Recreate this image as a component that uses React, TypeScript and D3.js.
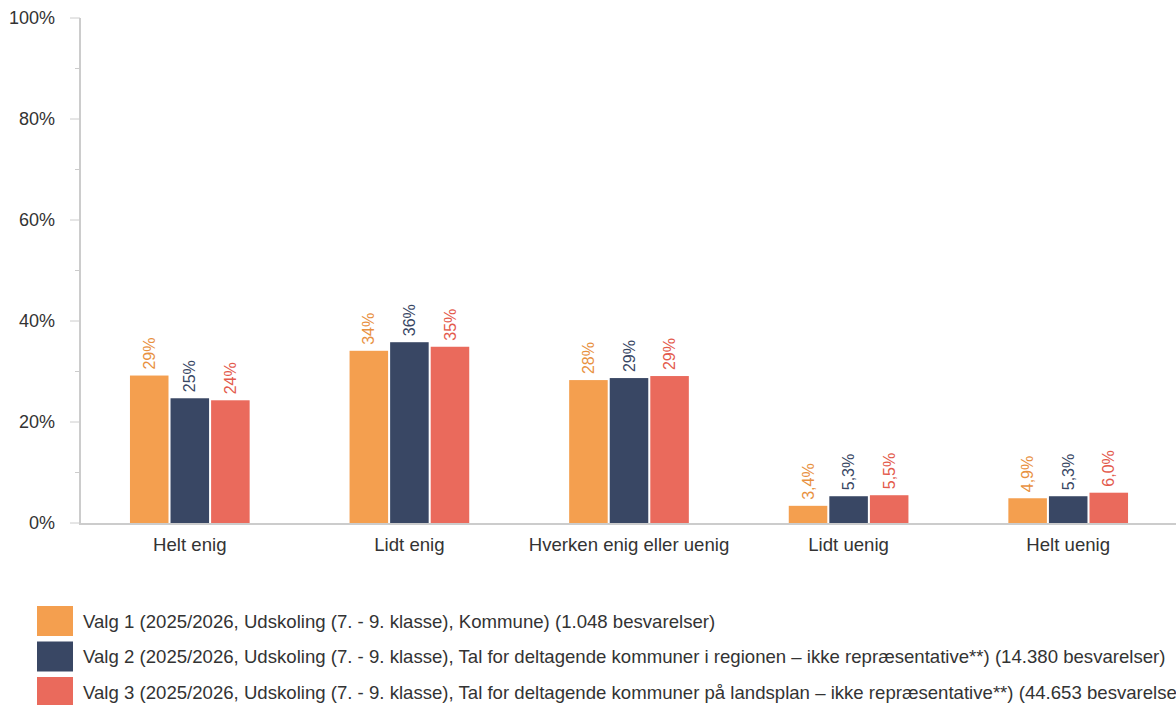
import { useEffect, useRef } from "react";
import * as d3 from "d3";

const categories = ["Helt enig", "Lidt enig", "Hverken enig eller uenig", "Lidt uenig", "Helt uenig"];
const seriesNames = [
  "Valg 1 (2025/2026, Udskoling (7. - 9. klasse), Kommune) (1.048 besvarelser)",
  "Valg 2 (2025/2026, Udskoling (7. - 9. klasse), Tal for deltagende kommuner i regionen – ikke repræsentative**) (14.380 besvarelser)",
  "Valg 3 (2025/2026, Udskoling (7. - 9. klasse), Tal for deltagende kommuner på landsplan – ikke repræsentative**) (44.653 besvarelser)",
];
const valg1 = [29.2, 34.1, 28.3, 3.4, 4.9];
const valg2 = [24.7, 35.8, 28.7, 5.3, 5.3];
const valg3 = [24.3, 34.9, 29.1, 5.5, 6.0];
const yTicks = [0, 20, 40, 60, 80, 100];
const colors = ["#f49f4f", "#394764", "#ea6a5c"];
const labelColors = ["#e8913f", "#394764", "#e35a4c"];

const W = 1176,
  H = 705;
const margin = { top: 18, right: -2, bottom: 182, left: 80 };
const font = "'Liberation Sans', Arial, sans-serif";

const fmt = (v: number) => (v >= 10 ? Math.round(v) + "%" : v.toFixed(1).replace(".", ",") + "%");

function App() {
  const svgRef = useRef(null);

  useEffect(() => {
    document.body.style.margin = "0";
    const svg = d3.select(svgRef.current);
    svg.selectAll("*").remove();

    const series = [valg1, valg2, valg3];
    const x0 = d3.scaleBand().domain(categories).range([margin.left, W - margin.right]);
    const x1 = d3.scaleBand().domain(["0", "1", "2"]).range([0, x0.bandwidth() * 0.545]).paddingInner(0.05);
    const y = d3.scaleLinear().domain([0, 100]).range([H - margin.bottom, margin.top]);

    const g = svg.append("g").style("font-family", font);

    // minor ticks
    g.selectAll("line.minor")
      .data(d3.range(10, 100, 20))
      .enter()
      .append("line")
      .attr("x1", margin.left - 5)
      .attr("x2", margin.left)
      .attr("y1", (d) => y(d))
      .attr("y2", (d) => y(d))
      .attr("stroke", "#ccc")
      .attr("stroke-width", 1);

    g.selectAll("line.major")
      .data(yTicks)
      .enter()
      .append("line")
      .attr("x1", margin.left - 10)
      .attr("x2", margin.left)
      .attr("y1", (d) => y(d))
      .attr("y2", (d) => y(d))
      .attr("stroke", "#ccc")
      .attr("stroke-width", 1);

    g.selectAll("text.ytick")
      .data(yTicks)
      .enter()
      .append("text")
      .attr("x", margin.left - 25)
      .attr("y", (d) => y(d))
      .attr("dy", "0.35em")
      .attr("text-anchor", "end")
      .attr("font-size", 18)
      .attr("fill", "#333")
      .text((d) => d + "%");

    // bars
    categories.forEach((c, i) => {
      const start = (x0(c) as number) + (x0.bandwidth() - x1.range()[1]) / 2;
      series.forEach((s, j) => {
        const bx = start + (x1(String(j)) as number);
        const bw = x1.bandwidth();
        g.append("rect")
          .attr("x", bx)
          .attr("y", y(s[i]))
          .attr("width", bw)
          .attr("height", y(0) - y(s[i]))
          .attr("fill", colors[j]);
        const lx = bx + bw / 2;
        const ly = y(s[i]) - 6;
        g.append("text")
          .attr("transform", `translate(${lx},${ly}) rotate(-90)`)
          .attr("dy", "0.35em")
          .attr("text-anchor", "start")
          .attr("font-size", 16)
          .attr("fill", labelColors[j])
          .text(fmt(s[i]));
      });
      g.append("text")
        .attr("x", (x0(c) as number) + x0.bandwidth() / 2)
        .attr("y", y(0) + 28)
        .attr("text-anchor", "middle")
        .attr("font-size", 18.6)
        .attr("fill", "#333")
        .text(c);
    });

    // axes lines
    g.append("line")
      .attr("x1", margin.left)
      .attr("x2", margin.left)
      .attr("y1", y(100))
      .attr("y2", y(0) + 1)
      .attr("stroke", "#ccc")
      .attr("stroke-width", 2);
    g.append("line")
      .attr("x1", margin.left - 1)
      .attr("x2", W)
      .attr("y1", y(0) + 1)
      .attr("y2", y(0) + 1)
      .attr("stroke", "#ccc")
      .attr("stroke-width", 2);

    // legend
    const lg = g.append("g");
    seriesNames.forEach((n, j) => {
      const cy = 621 + j * 35.5;
      lg.append("rect").attr("x", 37).attr("y", cy - 15).attr("width", 36).attr("height", 30).attr("fill", colors[j]);
      lg.append("text")
        .attr("x", 83)
        .attr("y", cy)
        .attr("dy", "0.35em")
        .attr("font-size", 18.6)
        .attr("fill", "#333")
        .text(n);
    });
  }, []);

  return <svg ref={svgRef} width={W} height={H} style={{ display: "block" }}></svg>;
}

export default App;
